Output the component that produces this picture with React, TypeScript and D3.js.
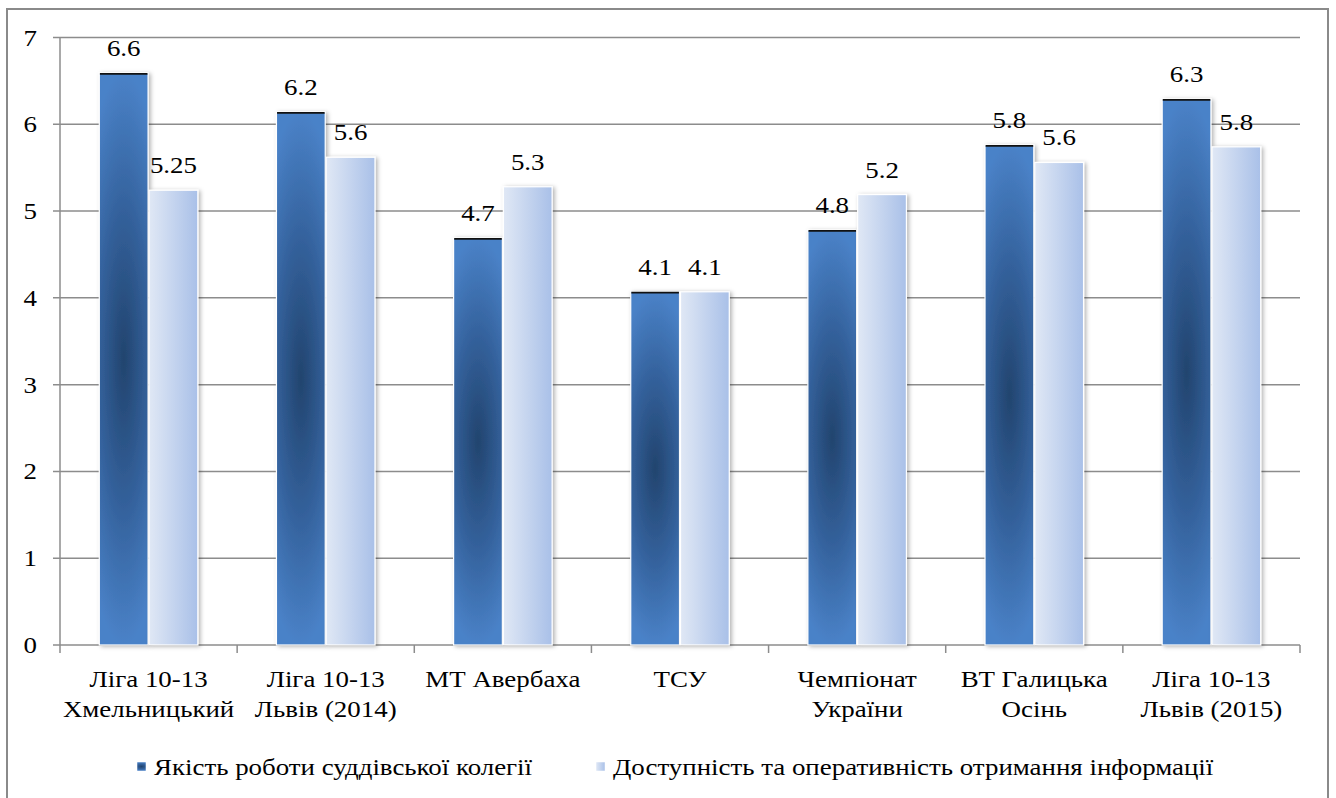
import * as React from "react";
import * as d3 from "d3";

const categories = [
  ["Ліга 10-13", "Хмельницький"],
  ["Ліга 10-13", "Львів (2014)"],
  ["МТ Авербаха"],
  ["ТСУ"],
  ["Чемпіонат", "України"],
  ["ВТ Галицька", "Осінь"],
  ["Ліга 10-13", "Львів (2015)"],
];

const seriesNames = [
  "Якість роботи суддівської колегії",
  "Доступність та оперативність отримання інформації",
];

// bar heights, with the printed labels beside them
const qualityValues = [6.59, 6.14, 4.69, 4.07, 4.78, 5.76, 6.29];
const qualityLabels = ["6.6", "6.2", "4.7", "4.1", "4.8", "5.8", "6.3"];
const accessValues = [5.24, 5.62, 5.28, 4.07, 5.19, 5.56, 5.74];
const accessLabels = ["5.25", "5.6", "5.3", "4.1", "5.2", "5.6", "5.8"];

const yTicks = [0, 1, 2, 3, 4, 5, 6, 7];

const W = 1336;
const H = 798;
// the source picture is stretched sideways a bit, so text gets a horizontal scale
const STRETCH = 1.17;

const Label = ({ x, y, anchor = "start", children }) => (
  <text
    transform={`translate(${x},${y}) scale(${STRETCH},1)`}
    textAnchor={anchor}
    fill="#000"
    style={{ fontFamily: "'Liberation Serif', 'Times New Roman', serif", fontSize: "23px" }}
  >
    {children}
  </text>
);

export default function App() {
  const plot = { left: 60, right: 1300, top: 37.5, bottom: 645 };

  const x = d3
    .scaleBand<number>()
    .domain(d3.range(categories.length))
    .range([plot.left, plot.right])
    .padding(0);
  const inner = d3
    .scaleBand<number>()
    .domain([0, 1])
    .range([0, x.step()])
    .paddingInner(0.02)
    .paddingOuter(0.79);
  const y = d3.scaleLinear().domain([0, 7]).range([plot.bottom, plot.top]);

  const series = [
    { values: qualityValues, labels: qualityLabels, fill: "url(#gradDark)", cap: true },
    { values: accessValues, labels: accessLabels, fill: "url(#gradLight)", cap: false },
  ];

  const grid = "#8c8c8c";

  return (
    <svg width={W} height={H} style={{ position: "absolute", left: 0, top: 0, background: "#fff" }}>
      <defs>
        <radialGradient
          id="gradDark"
          cx="0.5"
          cy="0.5"
          r="0.5"
          gradientTransform="translate(0.5,0.5) scale(2,1) translate(-0.5,-0.5)"
        >
          <stop offset="0" stopColor="#22446e" />
          <stop offset="0.5" stopColor="#33609a" />
          <stop offset="1" stopColor="#4a82c8" />
        </radialGradient>
        <linearGradient id="gradLight" x1="0" y1="0" x2="1" y2="0">
          <stop offset="0" stopColor="#e0e8f5" />
          <stop offset="1" stopColor="#a9c0e8" />
        </linearGradient>
        <filter id="shadow" x="-20%" y="-5%" width="150%" height="115%">
          <feDropShadow dx="2" dy="1" stdDeviation="2" floodColor="#000" floodOpacity="0.3" />
        </filter>
      </defs>

      {/* outer frame */}
      <rect x={7} y={9} width={1321} height={800} fill="none" stroke="#8a8a8a" strokeWidth={2} />

      {/* gridlines */}
      {yTicks.map((t) => (
        <g key={t}>
          <line x1={plot.left - 7} x2={plot.right} y1={y(t)} y2={y(t)} stroke={grid} strokeWidth={1.5} />
          <Label x={37} y={y(t) + 8} anchor="end">
            {t}
          </Label>
        </g>
      ))}

      {/* y axis */}
      <line x1={plot.left} x2={plot.left} y1={plot.top} y2={plot.bottom} stroke={grid} strokeWidth={1.5} />

      {/* category ticks */}
      {d3.range(categories.length + 1).map((i) => {
        const xx = plot.left + i * x.step();
        return <line key={i} x1={xx} x2={xx} y1={plot.bottom} y2={plot.bottom + 8} stroke={grid} strokeWidth={1.5} />;
      })}

      {/* bars */}
      {categories.map((_, i) =>
        series.map((s, k) => {
          const bx = (x(i) ?? 0) + (inner(k) ?? 0);
          const bw = inner.bandwidth();
          const top = y(s.values[i]);
          return (
            <g key={`${i}-${k}`}>
              <rect
                x={bx}
                y={top}
                width={bw}
                height={plot.bottom - top}
                fill={s.fill}
                stroke="#fff"
                strokeWidth={1.2}
                filter="url(#shadow)"
              />
              {s.cap && <line x1={bx + 0.6} x2={bx + bw - 0.6} y1={top + 0.8} y2={top + 0.8} stroke="#111" strokeWidth={1.8} />}
              <Label x={bx + bw / 2} y={top - 17} anchor="middle">
                {s.labels[i]}
              </Label>
            </g>
          );
        })
      )}

      {/* category labels */}
      {categories.map((lines, i) =>
        lines.map((ln, j) => (
          <Label key={`${i}-${j}`} x={(x(i) ?? 0) + x.bandwidth() / 2} y={687 + j * 30} anchor="middle">
            {ln}
          </Label>
        ))
      )}

      {/* legend */}
      {seriesNames.map((name, k) => {
        const lx = k === 0 ? 137 : 596;
        return (
          <g key={k}>
            <rect
              x={lx}
              y={762}
              width={9}
              height={9}
              fill={k === 0 ? "url(#gradDark)" : "url(#gradLight)"}
              stroke="#fff"
              strokeWidth={0.5}
            />
            <Label x={lx + 17} y={775}>
              {name}
            </Label>
          </g>
        );
      })}
    </svg>
  );
}
